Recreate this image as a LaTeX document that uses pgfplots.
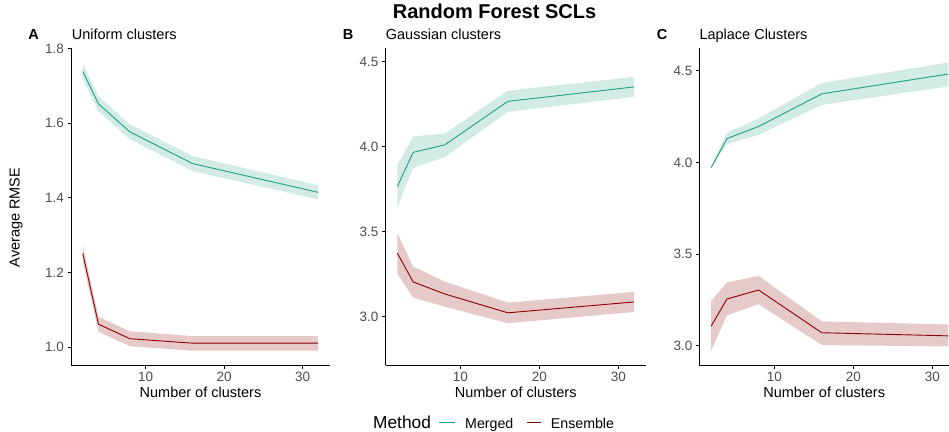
\documentclass[border=0pt]{standalone}
\usepackage{pgfplots}
\pgfplotsset{compat=1.18}
\usepackage{fontspec}
\setmainfont{Liberation Sans}

\definecolor{merged}{HTML}{1F9E89}
\definecolor{mergedfill}{HTML}{D3EBE5}
\definecolor{ensemble}{HTML}{8B0000}
\definecolor{ensemblefill}{HTML}{E6C9C9}
\definecolor{tickgray}{HTML}{4D4D4D}

\newcommand{\fs}[1]{\fontsize{#1bp}{1.2\dimexpr#1bp\relax}\selectfont}

\pgfplotsset{
  panel/.style={
    scale only axis,
    height=317bp,
    anchor=south west,
    xmin=0.5, xmax=33.5,
    xtick={10,20,30},
    axis lines*=left,
    axis line style={line width=0.9bp, black},
    tick align=outside,
    major tick length=3.5bp,
    tick style={line width=0.9bp, black},
    minor tick num=0,
    tick label style={font=\fs{13.5}, text=tickgray},
    /pgf/number format/assume math mode=true,
    y tick label style={/pgf/number format/.cd, fixed, fixed zerofill, precision=1},
  },
  band/.style={fill=#1, draw=none},
  mline/.style={color=merged, line width=0.9bp},
  eline/.style={color=ensemble, line width=0.9bp},
}

\begin{document}
\begin{tikzpicture}[x=1bp, y=1bp]
\useasboundingbox (0,0) rectangle (949,431);

% Panel A
\begin{axis}[panel, at={(71bp,66bp)}, width=259bp,
  ymin=0.9526, ymax=1.8016, ytick={1.0,1.2,1.4,1.6,1.8}]
\addplot[band=mergedfill] coordinates {
  (2,1.760) (4,1.672) (8,1.597) (16,1.512) (32,1.434)
  (32,1.396) (16,1.472) (8,1.557) (4,1.632) (2,1.718)} -- cycle;
\addplot[band=ensemblefill] coordinates {
  (2,1.274) (4,1.082) (8,1.043) (16,1.030) (32,1.030)
  (32,0.991) (16,0.991) (8,1.003) (4,1.042) (2,1.229)} -- cycle;
\addplot[mline] coordinates {(2,1.739) (4,1.652) (8,1.577) (16,1.492) (32,1.415)};
\addplot[eline] coordinates {(2,1.2515) (4,1.062) (8,1.023) (16,1.011) (32,1.011)};
\end{axis}

% Panel B
\begin{axis}[panel, at={(385.5bp,66bp)}, width=260.5bp,
  ymin=2.717, ymax=4.582, ytick={3.0,3.5,4.0,4.5}]
\addplot[band=mergedfill] coordinates {
  (2,3.891) (4,4.062) (8,4.078) (16,4.331) (32,4.412)
  (32,4.294) (16,4.207) (8,3.940) (4,3.876) (2,3.650)} -- cycle;
\addplot[band=ensemblefill] coordinates {
  (2,3.493) (4,3.296) (8,3.208) (16,3.084) (32,3.147)
  (32,3.029) (16,2.963) (8,3.060) (4,3.114) (2,3.253)} -- cycle;
\addplot[mline] coordinates {(2,3.767) (4,3.968) (8,4.012) (16,4.268) (32,4.353)};
\addplot[eline] coordinates {(2,3.375) (4,3.206) (8,3.135) (16,3.024) (32,3.088)};
\end{axis}

% Panel C
\begin{axis}[panel, at={(699.3bp,66bp)}, width=249.7bp, xmax=32.1,
  ymin=2.895, ymax=4.624, ytick={3.0,3.5,4.0,4.5}]
\addplot[band=mergedfill] coordinates {
  (2,3.976) (4,4.163) (8,4.240) (16,4.433) (32,4.545)
  (32,4.414) (16,4.314) (8,4.150) (4,4.100) (2,3.968)} -- cycle;
\addplot[band=ensemblefill] coordinates {
  (2,3.244) (4,3.346) (8,3.381) (16,3.133) (32,3.116)
  (32,2.996) (16,3.004) (8,3.227) (4,3.166) (2,2.973)} -- cycle;
\addplot[mline] coordinates {(2,3.972) (4,4.130) (8,4.196) (16,4.374) (32,4.482)};
\addplot[eline] coordinates {(2,3.107) (4,3.255) (8,3.304) (16,3.071) (32,3.054)};
\end{axis}

% titles and labels
\node[anchor=base, font=\fs{20}\bfseries] at (494.5,412.7) {Random Forest SCLs};
\node[anchor=base, font=\fs{14.5}\bfseries] at (33.5,391.7) {A};
\node[anchor=base, font=\fs{14.5}\bfseries] at (348,391.7) {B};
\node[anchor=base, font=\fs{14.5}\bfseries] at (662,391.7) {C};
\node[anchor=base west, inner sep=0, font=\fs{14.5}] at (71.7,391.7) {Uniform clusters};
\node[anchor=base west, inner sep=0, font=\fs{14.5}] at (385.7,391.7) {Gaussian clusters};
\node[anchor=base west, inner sep=0, font=\fs{14.5}] at (699.3,391.7) {Laplace Clusters};
\foreach \cx in {200.5,515.7,824.2}
  \node[anchor=base, inner sep=0, font=\fs{14.5}] at (\cx,33.5) {Number of clusters};
\node[rotate=90, anchor=base, inner sep=0, font=\fs{14.5}] at (19.5,213.5) {Average RMSE};

% legend
\node[anchor=base west, inner sep=0, font=\fs{17.3}] at (373,3) {Method};
\draw[merged, line width=0.9bp] (439,8.3) -- (455,8.3);
\node[anchor=base west, inner sep=0, font=\fs{14.2}] at (465,3) {Merged};
\draw[ensemble, line width=0.9bp] (527,8.3) -- (541,8.3);
\node[anchor=base west, inner sep=0, font=\fs{14.2}] at (550.7,3) {Ensemble};
\end{tikzpicture}
\end{document}
